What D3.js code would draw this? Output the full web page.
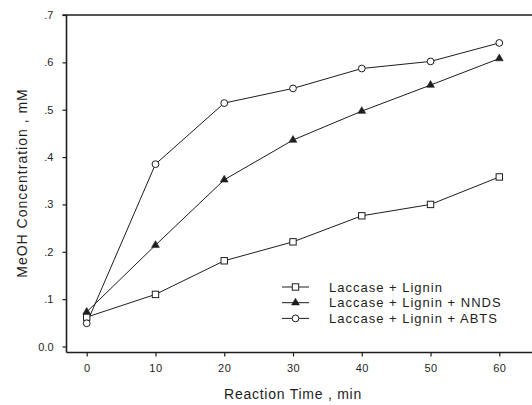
<!DOCTYPE html>
<html>
<head>
<meta charset="utf-8">
<script src="https://cdn.jsdelivr.net/npm/d3@7"></script>
<style>
  body { margin: 0; background: #fff; }
  svg { display: block; font-family: 'Liberation Sans', Arial, sans-serif; }
</style>
</head>
<body>
<svg id="chart" width="532" height="405"></svg>
<script>
// Reaction times (min)
const times = [0, 10, 20, 30, 40, 50, 60];

// MeOH concentration (mM)
const lacLignin = [0.062, 0.110, 0.181, 0.221, 0.276, 0.300, 0.358];
const lacLigninNNDS = [0.073, 0.214, 0.352, 0.436, 0.497, 0.552, 0.608];
const lacLigninABTS = [0.049, 0.385, 0.514, 0.545, 0.587, 0.602, 0.641];

const seriesNames = ['Laccase + Lignin', 'Laccase + Lignin + NNDS', 'Laccase + Lignin + ABTS'];
const seriesMarkers = ['square', 'triangle', 'circle'];

const yTicks = [0, 0.1, 0.2, 0.3, 0.4, 0.5, 0.6, 0.7];
const xTicks = [0, 10, 20, 30, 40, 50, 60];

const series = [lacLignin, lacLigninNNDS, lacLigninABTS].map((vals, i) => ({
  name: seriesNames[i],
  marker: seriesMarkers[i],
  points: vals.map((v, j) => ({ t: times[j], v }))
}));

const svg = d3.select('#chart');
const ink = '#1e1e1e';

// frame geometry
const axisX = 66.5;      // left axis line
const baseY = 352.5;     // bottom axis line (sits a bit below y = 0)
const rightEdge = 532;

const x = d3.scaleLinear().domain([0, 60]).range([86.7, 499.3]);
const y = d3.scaleLinear().domain([0, 0.7]).range([346.5, 15]);

// Frame lines
const frame = svg.append('g').attr('class', 'frame')
  .attr('stroke', ink).attr('fill', 'none');
frame.append('line')
  .attr('x1', axisX).attr('x2', axisX)
  .attr('y1', y(0.7)).attr('y2', baseY)
  .attr('stroke-width', 1.6);
frame.append('line')
  .attr('x1', axisX - 4).attr('x2', rightEdge)
  .attr('y1', y(0.7)).attr('y2', y(0.7))
  .attr('stroke-width', 1.4);
frame.append('line')
  .attr('x1', axisX).attr('x2', rightEdge)
  .attr('y1', baseY).attr('y2', baseY)
  .attr('stroke-width', 1.4);

// Y axis
const yAxis = svg.append('g')
  .attr('transform', `translate(${axisX},0)`)
  .call(d3.axisLeft(y)
    .tickValues(yTicks)
    .tickSize(4)
    .tickPadding(9)
    .tickFormat(v => v === 0 ? '0.0' : d3.format('.1f')(v).replace(/^0/, '')));
yAxis.select('.domain').remove();
yAxis.selectAll('line').attr('stroke', ink).attr('stroke-width', 1.2);
yAxis.selectAll('text')
  .attr('fill', ink)
  .style('font-size', '11px')
  .style('font-family', "'Liberation Sans', Arial, sans-serif");

// X axis
const xAxis = svg.append('g')
  .attr('transform', `translate(0,${baseY})`)
  .call(d3.axisBottom(x)
    .tickValues(xTicks)
    .tickSize(4)
    .tickPadding(8)
    .tickFormat(d3.format('d')));
xAxis.select('.domain').remove();
xAxis.selectAll('line').attr('stroke', ink).attr('stroke-width', 1.2);
xAxis.selectAll('text')
  .attr('fill', ink)
  .style('font-size', '11px')
  .style('letter-spacing', '0.5px')
  .style('font-family', "'Liberation Sans', Arial, sans-serif");

// Axis titles
svg.append('text')
  .attr('x', 293).attr('y', 399)
  .attr('text-anchor', 'middle')
  .attr('fill', ink)
  .style('font-size', '14px')
  .style('letter-spacing', '0.75px')
  .text('Reaction Time , min');

svg.append('text')
  .attr('transform', 'translate(26.5,183) rotate(-90)')
  .attr('text-anchor', 'middle')
  .attr('fill', ink)
  .style('font-size', '14px')
  .style('letter-spacing', '1px')
  .text('MeOH Concentration , mM');

// Marker drawing
function drawMarker(sel, type) {
  if (type === 'square') {
    sel.append('rect')
      .attr('x', -3.2).attr('y', -3.2).attr('width', 6.4).attr('height', 6.4)
      .attr('fill', '#fff').attr('stroke', ink).attr('stroke-width', 1);
  } else if (type === 'circle') {
    sel.append('circle')
      .attr('r', 3.4)
      .attr('fill', '#fff').attr('stroke', ink).attr('stroke-width', 1);
  } else {
    sel.append('path')
      .attr('d', d3.symbol().type(d3.symbolTriangle).size(26)())
      .attr('fill', ink).attr('stroke', ink).attr('stroke-width', 0.6);
  }
}

const line = d3.line().x(d => x(d.t)).y(d => y(d.v));

const plot = svg.append('g').attr('class', 'series');
series.forEach(s => {
  plot.append('path')
    .datum(s.points)
    .attr('d', line)
    .attr('fill', 'none')
    .attr('stroke', ink)
    .attr('stroke-width', 1);
});
series.forEach(s => {
  plot.selectAll(null)
    .data(s.points)
    .join('g')
    .attr('transform', d => `translate(${x(d.t)},${y(d.v)})`)
    .each(function() { drawMarker(d3.select(this), s.marker); });
});

// Legend
const legend = svg.append('g').attr('transform', 'translate(282,287)');
series.forEach((s, i) => {
  const row = legend.append('g').attr('transform', `translate(0,${i * 15.7})`);
  row.append('line')
    .attr('x1', 0).attr('x2', 27)
    .attr('stroke', ink).attr('stroke-width', 1);
  const m = row.append('g').attr('transform', 'translate(13.5,0)');
  drawMarker(m, s.marker);
  row.append('text')
    .attr('x', 47).attr('y', 4.6)
    .attr('fill', ink)
    .style('font-size', '13px')
    .style('letter-spacing', '1px')
    .text(s.name);
});
</script>
</body>
</html>
